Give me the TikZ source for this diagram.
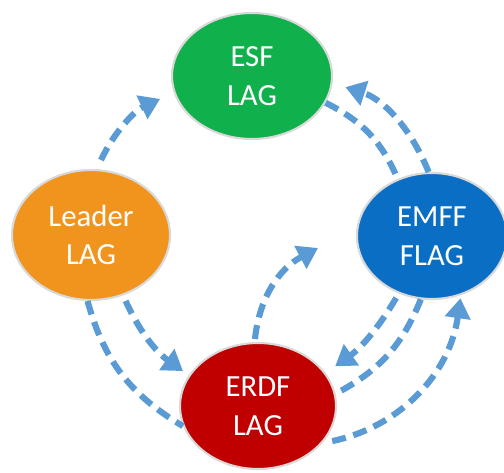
\documentclass[tikz,border=0pt]{standalone}
\usepackage{fontspec}
\setmainfont{Carlito}
\usetikzlibrary{shapes.geometric,arrows.meta}
\definecolor{esfgreen}{HTML}{10B04C}
\definecolor{leadorange}{HTML}{F0941E}
\definecolor{emffblue}{HTML}{0A6EC4}
\definecolor{erdfred}{HTML}{C00000}
\definecolor{flowblue}{HTML}{5B9BD5}

\begin{document}
\begin{tikzpicture}[
  lag/.style={ellipse,draw=gray!30,line width=1.2pt,text=white,align=center,
    inner sep=0pt,font=\fontsize{17.5}{22}\selectfont},
  flow/.style={draw=flowblue,line width=3.5pt,dash pattern=on 8pt off 4.5pt},
  head/.style={-{Triangle[length=0.4cm,width=0.5cm]}}
]
\useasboundingbox (0,0) rectangle (10.08,9.44);

\node[lag,fill=esfgreen,minimum width=3.2cm,minimum height=2.52cm] (esf) at (5.04,7.92) {ESF\\LAG};
\node[lag,fill=leadorange,minimum width=3.16cm,minimum height=2.6cm] (lead) at (1.82,4.74) {Leader\\LAG};
\node[lag,fill=emffblue,minimum width=3cm,minimum height=2.52cm] (emff) at (8.64,4.72) {EMFF\\FLAG};
\node[lag,fill=erdfred,minimum width=3.12cm,minimum height=2.52cm] (erdf) at (5.16,1.32) {ERDF\\LAG};
\coordinate (mid) at (6.36,4.48);

% Leader -> ESF
\draw[flow,head,shorten <=0.2cm,shorten >=0.3cm] (lead.85) to[bend left=20] (esf.192);
% ESF <-> EMFF
\draw[flow] (esf.-20) to[bend left=20] (emff.121);
\draw[flow,head,shorten >=0.27cm] (emff.93) to[bend right=25] (esf.-5);
% Leader -> ERDF
\draw[flow] (lead.267) to[bend right=22] (erdf.195);
\draw[flow,head,shorten <=0.12cm,shorten >=0.14cm] (lead.-62) to[bend right=15] (erdf.156);
% ERDF -> centre
\draw[flow,head,shorten <=0.06cm] (erdf.93) to[bend left=28] (mid);
% EMFF <-> ERDF
\draw[flow,head,shorten <=0.1cm,shorten >=0.23cm] (emff.240) to[bend left=12] (erdf.26);
\draw[flow] (emff.260) to[bend left=20] (erdf.9);
\draw[flow,head,shorten <=0.2cm,shorten >=0.06cm] (erdf.-30) to[bend right=35] (emff.-64);

\end{tikzpicture}
\end{document}
